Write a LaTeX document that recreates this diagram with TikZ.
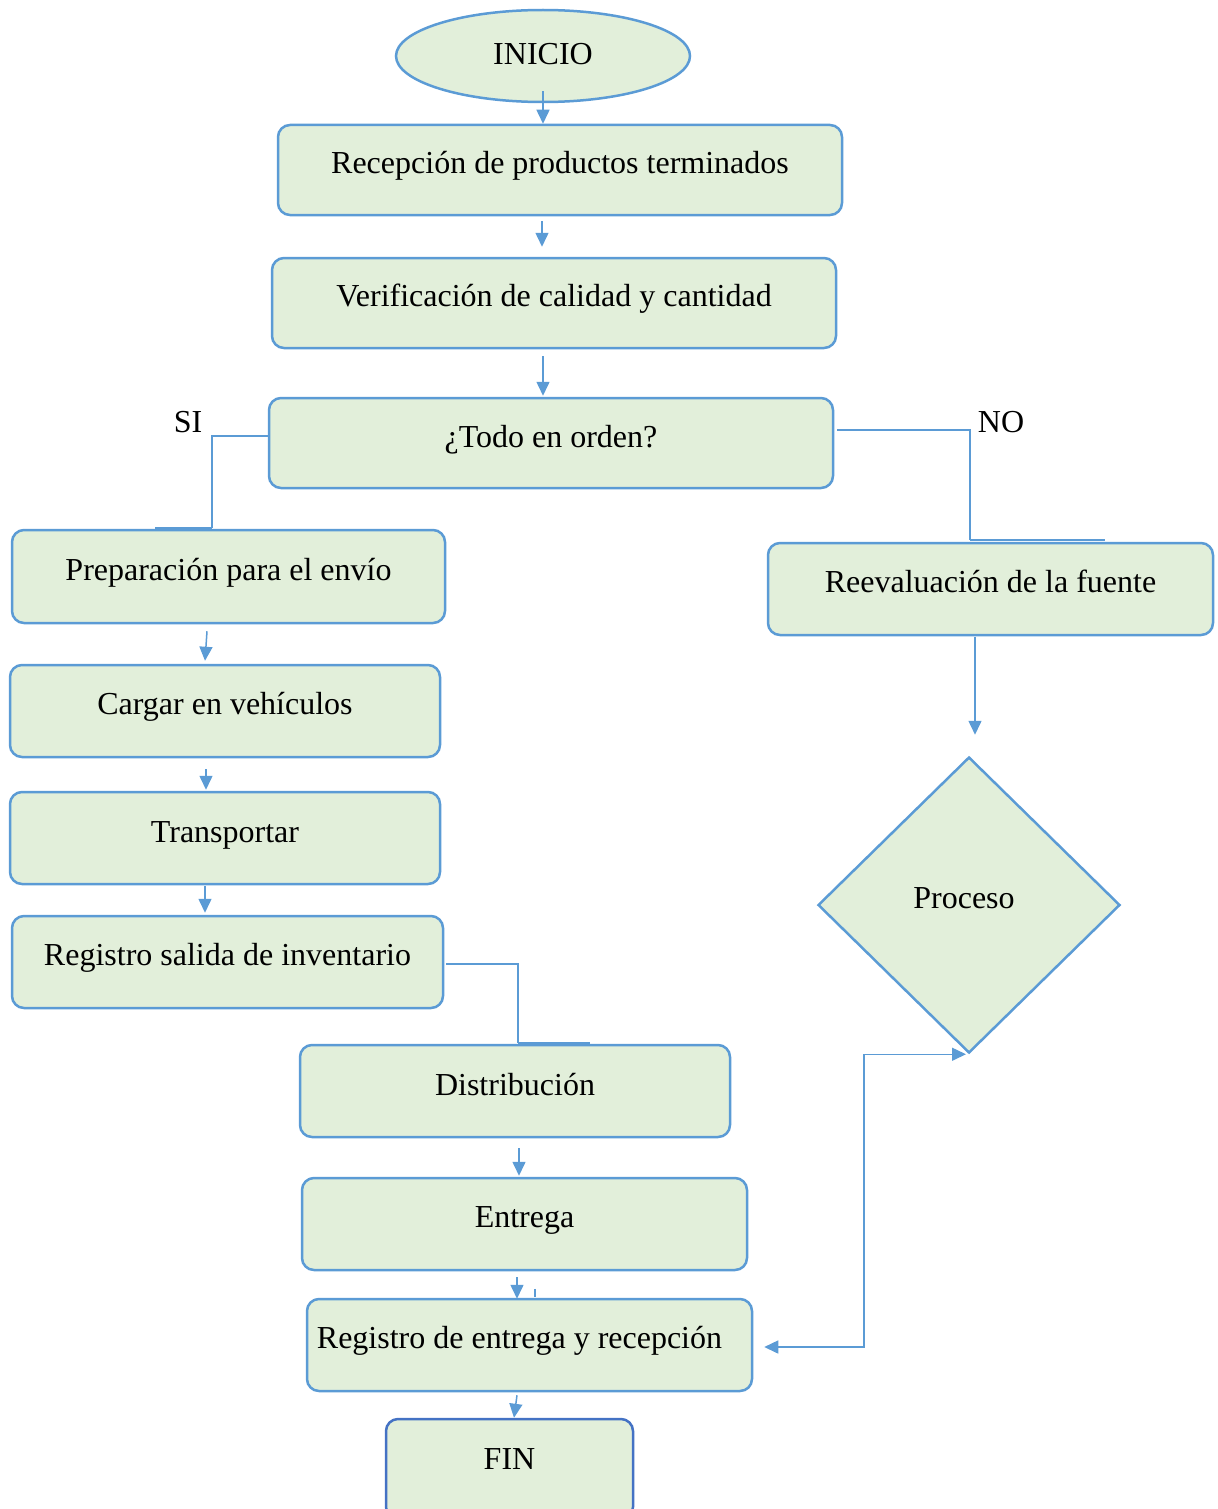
\documentclass[tikz,border=0pt]{standalone}
\usepackage{fontspec}
\setmainfont{Liberation Serif}
\usetikzlibrary{shapes.geometric,arrows.meta,calc}
\definecolor{bfill}{HTML}{E2EFDA}
\definecolor{bline}{HTML}{5B9BD5}
\definecolor{bdark}{HTML}{4472C4}
\tikzset{
  box/.style={draw=bline, fill=bfill, line width=1.25pt, rounded corners=6pt, inner sep=0pt},
  term/.style={draw=bline, fill=bfill, line width=1.25pt, ellipse, inner sep=0pt},
  dia/.style={draw=bline, fill=bfill, line width=1.25pt, diamond, inner sep=0pt},
  lbl/.style={anchor=base, inner sep=0pt, font=\fontsize{16}{19}\selectfont},
  conn/.style={draw=bline, line width=0.75pt},
  arr/.style={conn, -{Triangle[length=7pt,width=6.5pt]}},
  darr/.style={conn, {Triangle[length=7pt,width=6.5pt]}-{Triangle[length=7pt,width=6.5pt]}},
  seg/.style={draw=bline, line width=1.25pt},
}
\begin{document}
\begin{tikzpicture}[x=0.5pt,y=-0.5pt]
\useasboundingbox (0,0) rectangle (1218,1509);
\clip (0,0) rectangle (1218,1509);

% shapes
\node[term, minimum width=147pt, minimum height=46pt] (inicio) at (543,56) {};
\node[box, minimum width=282pt, minimum height=45pt] (recep) at (560,170) {};
\node[box, minimum width=282pt, minimum height=45pt] (verif) at (554,303) {};
\node[box, minimum width=282pt, minimum height=45pt] (todo) at (551,443) {};
\node[box, minimum width=216.5pt, minimum height=46.5pt] (prep) at (228.5,576.5) {};
\node[box, minimum width=215pt, minimum height=46pt] (cargar) at (225,711) {};
\node[box, minimum width=215pt, minimum height=46pt] (transp) at (225,838) {};
\node[box, minimum width=215.5pt, minimum height=46pt] (regsal) at (227.5,962) {};
\node[box, minimum width=215pt, minimum height=46pt] (distr) at (515,1091) {};
\node[box, minimum width=222.5pt, minimum height=46pt] (entrega) at (524.5,1224) {};
\node[box, minimum width=222.5pt, minimum height=46pt] (regent) at (529.5,1345) {};
\node[box, draw=bdark, minimum width=123.5pt, minimum height=50pt] (fin) at (509.5,1469) {};
\node[box, minimum width=222.5pt, minimum height=46pt] (reeval) at (990.5,589) {};
\node[dia, minimum width=151pt, minimum height=148pt] (proc) at (969,905) {};

% texts
\node[lbl] (t1) at (543,65) {INICIO};
\node[lbl] (t2) at (560,173) {Recepción de productos terminados};
\node[lbl] (t3) at (554,306) {Verificación de calidad y cantidad};
\node[lbl] (t4) at (551,447) {¿Todo en orden?};
\node[lbl] (t5) at (228.5,580) {Preparación para el envío};
\node[lbl] (t6) at (225,714) {Cargar en vehículos};
\node[lbl] (t7) at (225,842) {Transportar};
\node[lbl] (t8) at (227.5,965) {Registro salida de inventario};
\node[lbl] (t9) at (515,1095) {Distribución};
\node[lbl] (t10) at (524.5,1227) {Entrega};
\node[lbl] (t11) at (519.5,1348) {Registro de entrega y recepción};
\node[lbl] (t12) at (509.5,1469) {FIN};
\node[lbl] (t13) at (990.5,592) {Reevaluación de la fuente};
\node[lbl] (t14) at (964,908) {Proceso};
\node[lbl] (si) at (188,432) {SI};
\node[lbl] (no) at (1001,432) {NO};

% connectors
\draw[arr] ($(inicio.south)+(0,-12)$) -- (inicio.south |- recep.north);
\draw[arr] ($(recep.south)+(-18,5)$) -- ($(verif.north)+(-12,-10)$);
\draw[arr] ($(verif.south)+(-11,7)$) -- ($(todo.north)+(-8,-1)$);
\draw[conn] ($(todo.west)+(0,-7)$) -| ($(prep.north)+(-16.5,-1)$);
\draw[seg] ($(prep.north)+(-16.5,-1)$) -- ($(prep.north)+(-73.5,-1)$);
\draw[conn] ($(todo.east)+(3,-13)$) -| ($(reeval.north)+(-20.5,-2)$);
\draw[seg] ($(reeval.north)+(-20.5,-2)$) -- ($(reeval.north)+(114.5,-2)$);
\draw[arr] ($(prep.south)+(-21.5,7)$) -- ($(cargar.north)+(-20,-3)$);
\draw[arr] ($(cargar.south)+(-19,11)$) -- ($(transp.north)+(-19,-1)$);
\draw[arr] ($(transp.south)+(-20,1)$) -- ($(regsal.north)+(-22.5,-2)$);
\draw[conn] ($(regsal.east)+(2,2)$) -| ($(distr.north)+(3,-1)$);
\draw[seg] ($(distr.north)+(3,-1)$) -- ($(distr.north)+(75,-1)$);
\draw[arr] ($(distr.south)+(4,10)$) -- ($(entrega.north)+(-5.5,-1)$);
\draw[arr] ($(entrega.south)+(-7.5,6)$) -- ($(regent.north)+(-12.5,1)$);
\draw[conn] ($(regent.north)+(5.5,-9)$) -- ($(regent.north)+(5.5,-1)$);
\draw[arr] ($(regent.south)+(-12.5,3)$) -- ($(fin.north)+(4.5,0)$);
\draw[arr] ($(reeval.south)+(-15.5,1)$) -- ($(proc.north)+(6,-21)$);
\draw[darr] ($(regent.east)+(11,2)$) -| ($(proc.south)+(-105,0)$) -- ($(proc.south)+(-3,0)$);
\end{tikzpicture}
\end{document}
